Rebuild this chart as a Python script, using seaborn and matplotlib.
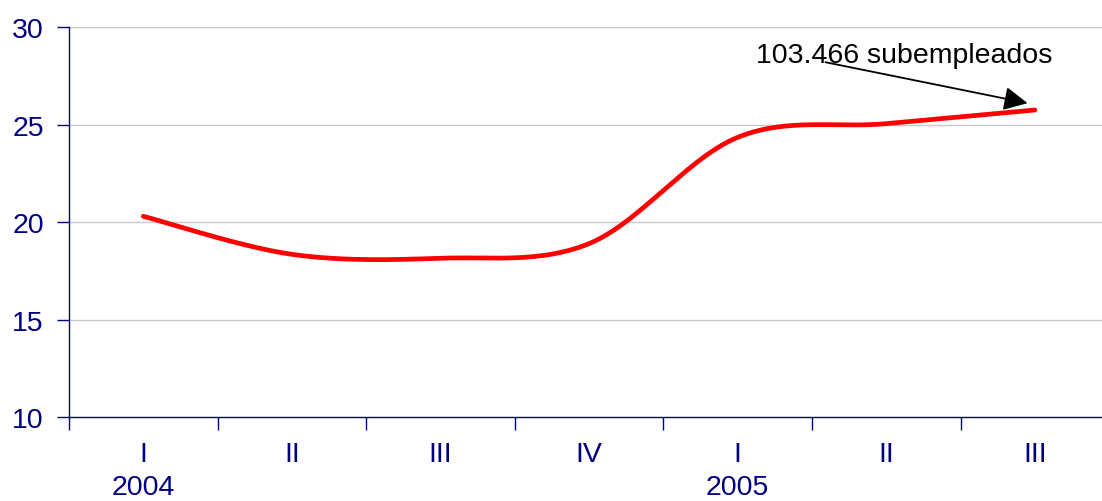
import numpy as np
import pandas as pd
import matplotlib
matplotlib.use('Agg')
import matplotlib.pyplot as plt
import seaborn as sns

# data
quarters = ['I', 'II', 'III', 'IV', 'I', 'II', 'III']
years = ['2004', '', '', '', '2005', '', '']
values = [20.3, 18.35, 18.15, 18.9, 24.35, 25.05, 25.75]
y_ticks = [10, 15, 20, 25, 30]
note = '103.466 subempleados'

NAVY = '#000080'
FS = 20.5


def smooth_curve(y, steps=30):
    """Catmull-Rom (Excel-style) smoothing through the points."""
    x = np.arange(len(y), dtype=float)
    y = np.asarray(y, dtype=float)
    px = np.concatenate([[x[0]], x, [x[-1]]])
    py = np.concatenate([[y[0]], y, [y[-1]]])
    xs, ys = [], []
    t = np.linspace(0, 1, steps)
    for i in range(1, len(x)):
        p0, p1, p2, p3 = (np.array([px[j], py[j]]) for j in (i - 1, i, i + 1, i + 2))
        c1 = p1 + (p2 - p0) / 6
        c2 = p2 - (p3 - p1) / 6
        pts = (np.outer((1 - t) ** 3, p1) + np.outer(3 * (1 - t) ** 2 * t, c1)
               + np.outer(3 * (1 - t) * t ** 2, c2) + np.outer(t ** 3, p2))
        xs.extend(pts[:, 0])
        ys.extend(pts[:, 1])
    return pd.DataFrame({'x': xs, 'y': ys})


sns.set_theme(style='white')
plt.rcParams['font.family'] = ['Liberation Sans', 'DejaVu Sans']

fig = plt.figure(figsize=(11.02, 5.02), dpi=100)
ax = fig.add_axes([0.0626, 0.167, 0.944, 0.777])

curve = smooth_curve(values)
sns.lineplot(data=curve, x='x', y='y', sort=False, color='#FF0000', lw=3.4, ax=ax)

ax.set_xlim(-0.5, len(values) - 0.5)
ax.set_ylim(10, 30)
ax.set_yticks(y_ticks)
for yv in y_ticks[1:]:
    ax.axhline(yv, color='#c8c8c8', lw=1, zorder=0)

ax.set_xticks(range(len(values)))
ax.set_xticklabels(quarters)
ax.set_xticks(np.arange(-0.5, len(values), 1), minor=True)
ax.tick_params(axis='x', which='major', length=0, pad=17, labelsize=FS, labelcolor=NAVY)
ax.tick_params(axis='x', which='minor', length=9, width=1, color=NAVY, direction='out', bottom=True)
ax.tick_params(axis='y', length=9, width=1, color=NAVY, direction='out', left=True,
               labelsize=FS, labelcolor=NAVY, pad=9)

for i, yr in enumerate(years):
    if yr:
        ax.text(i, -0.18, yr, transform=ax.get_xaxis_transform(), ha='center', va='center',
                fontsize=FS, color=NAVY)

sns.despine(ax=ax)
for side in ('left', 'bottom'):
    ax.spines[side].set_color(NAVY)
    ax.spines[side].set_linewidth(1)
ax.set_xlabel('')
ax.set_ylabel('')

ax.text(4.12, 28.55, note, fontsize=FS, color='black', va='center', ha='left')
ax.annotate('', xy=(5.95, 26.1), xytext=(4.59, 28.2),
            arrowprops=dict(arrowstyle='-|>', mutation_scale=36, color='black', lw=1.3,
                            shrinkA=0, shrinkB=0))

fig.savefig('out.png', dpi=100)
